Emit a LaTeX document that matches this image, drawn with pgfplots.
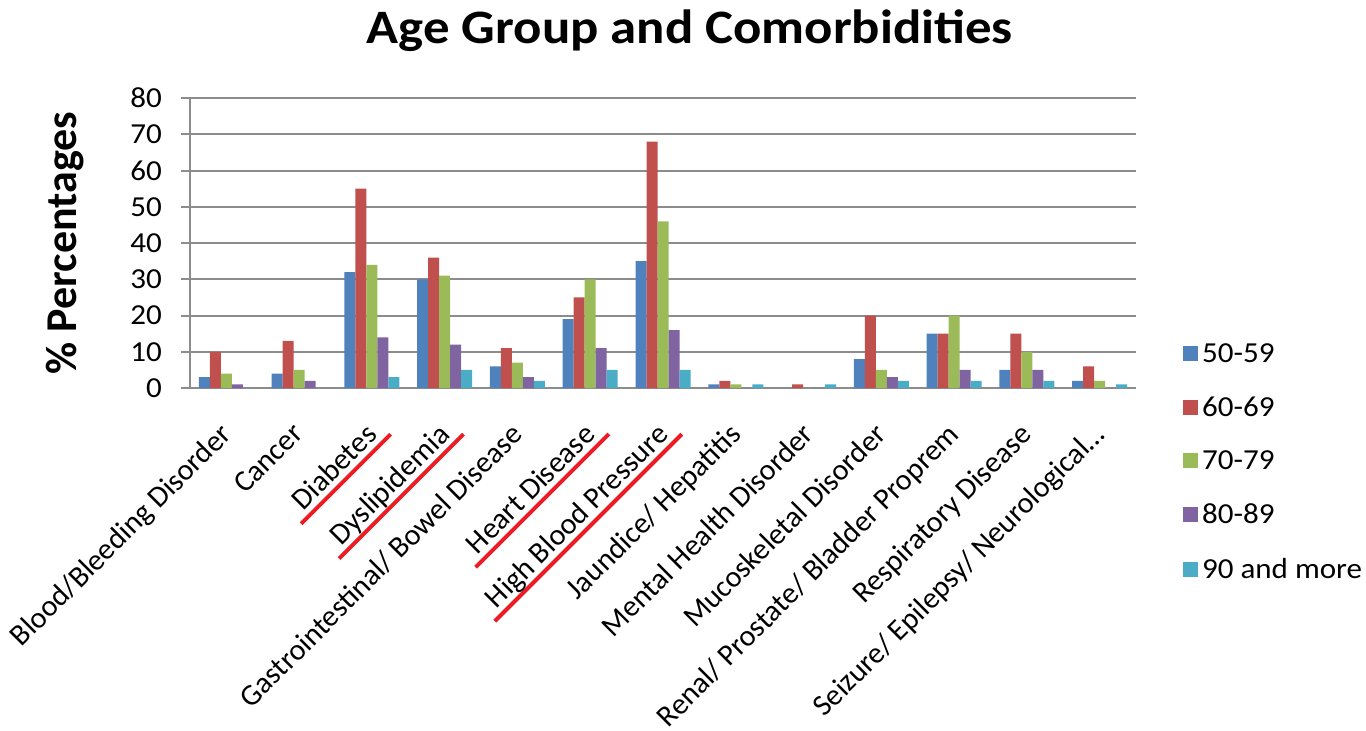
\documentclass[border=0pt]{standalone}
\usepackage{pgfplots}
\usepackage{pgfplotstable}
\pgfplotsset{compat=1.18}
\usepackage{fontspec}
\setmainfont{Carlito}
\definecolor{c1}{HTML}{4F81BD}
\definecolor{c2}{HTML}{C0504D}
\definecolor{c3}{HTML}{9BBB59}
\definecolor{c4}{HTML}{8064A2}
\definecolor{c5}{HTML}{4BACC6}
\definecolor{gridc}{HTML}{8C8C8C}
\definecolor{ulred}{HTML}{EC1C24}
\newsavebox\ulbox
\newcommand\redul[1]{\sbox\ulbox{#1}\makebox[0pt][l]{\hspace{-5pt}\textcolor{ulred}{\rule[-4.5pt]{\dimexpr\wd\ulbox+10pt\relax}{2pt}}}\usebox\ulbox}
\newcommand\hs[1]{\scalebox{1.07}[1]{#1}}
\pgfplotsset{sqlegend/.style={legend image code/.code={\fill[##1] (0pt,-3.5pt) rectangle (7.5pt,4pt);}}}
\pgfplotstableread{
x a b c d e
0 3 10 4 1 0
1 4 13 5 2 0
2 32 55 34 14 3
3 30 36 31 12 5
4 6 11 7 3 2
5 19 25 30 11 5
6 35 68 46 16 5
7 1 2 1 0 1
8 0 1 0 0 1
9 8 20 5 3 2
10 15 15 20 5 2
11 5 15 10 5 2
12 2 6 2 0 1
}\datatable
\begin{document}
\begin{tikzpicture}
\begin{axis}[
  scale only axis, width=473pt, height=145pt,
  ybar=0pt, bar width=5.5pt,
  ymin=0, ymax=80, ytick={0,10,20,30,40,50,60,70,80},
  xmin=-0.5, xmax=12.5, xtick={0,1,2,3,4,5,6,7,8,9,10,11,12},
  xticklabels={{Blood/Bleeding Disorder}, {Cancer}, {\redul{Diabetes}}, {\redul{Dyslipidemia}}, {Gastrointestinal/ Bowel Disease}, {\redul{Heart Disease}}, {\redul{High Blood Pressure}}, {Jaundice/ Hepatitis}, {Mental Health Disorder}, {Mucoskeletal Disorder}, {Renal/ Prostate/ Bladder Proprem}, {Respiratory Disease}, {Seizure/ Epilepsy/ Neurological\ldots}},
  x tick label style={xshift=-4pt, rotate=45, anchor=north east, font=\fontsize{15}{17}\selectfont, inner sep=0pt},
  xticklabel shift=12pt,
  y tick label style={font=\fontsize{14.5}{17}\selectfont, xshift=-6pt},
  yticklabel={\hs{\pgfmathprintnumber{\tick}}},
  /pgf/number format/assume math mode=true,
  axis x line=bottom, axis y line=left,
  axis line style={draw=gridc, line width=1pt, -},
  ymajorgrids, grid style={draw=gridc, line width=1pt},
  xtick style={draw=none},
  ytick style={draw=gridc, line width=1pt},
  tick align=outside, major tick length=4.5pt,
  ylabel={\% Percentages},
  ylabel style={font=\bfseries\fontsize{22}{26}\selectfont, at={(axis description cs:-0.132,0.5)}, anchor=center},
  title={\scalebox{1.1}[1]{Age Group and Comorbidities}},
  title style={font=\bfseries\fontsize{24}{28}\selectfont, at={(axis description cs:0.5285,1)}, anchor=south, yshift=13.5pt},
  legend style={at={(axis description cs:1.043,0.183)}, anchor=north west, draw=none, fill=none, row sep=11.7pt, font=\fontsize{14.5}{17}\selectfont},
  legend cell align=left,
  clip=false,
]
\addplot[fill=c1, draw=none, sqlegend] table[x=x, y=a] {\datatable};
\addplot[fill=c2, draw=none, sqlegend] table[x=x, y=b] {\datatable};
\addplot[fill=c3, draw=none, sqlegend] table[x=x, y=c] {\datatable};
\addplot[fill=c4, draw=none, sqlegend] table[x=x, y=d] {\datatable};
\addplot[fill=c5, draw=none, sqlegend] table[x=x, y=e] {\datatable};
\legend{\hs{50-59},\hs{60-69},\hs{70-79},\hs{80-89},\hs{90 and more}}
\coordinate (O) at (rel axis cs:0,0);
\end{axis}
\pgfresetboundingbox
\path ([shift={(-95pt,-171pt)}]O) rectangle ++(683pt,365pt);
\end{tikzpicture}
\end{document}
